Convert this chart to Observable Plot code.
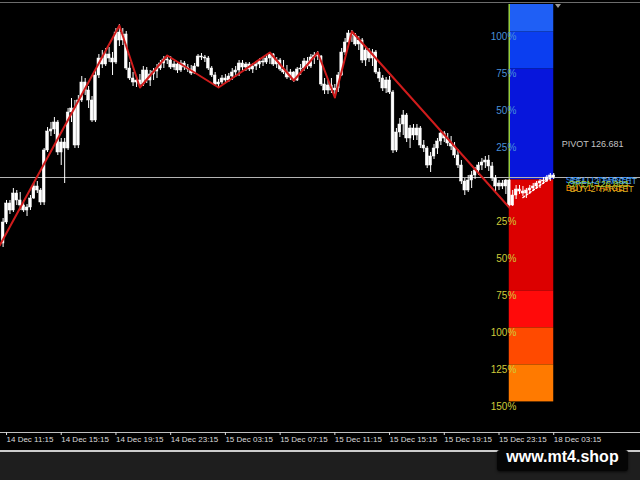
<!DOCTYPE html>
<html>
<head>
<meta charset="utf-8">
<script src="https://cdn.jsdelivr.net/npm/d3@7"></script>
<script src="https://cdn.jsdelivr.net/npm/@observablehq/plot@0.6"></script>
<style>
  html, body { margin: 0; padding: 0; background: #000; }
  #wrap { position: relative; width: 640px; height: 480px; background: #000; overflow: hidden; font-family: "Liberation Sans", Arial, sans-serif; }
  #chart { position: absolute; left: 0; top: 0; }
  .topline { position: absolute; left: 0; top: 2px; width: 640px; height: 1px; background: #6c6c6c; }
  .marker { position: absolute; left: 555px; top: 4px; width: 0; height: 0; border-left: 3px solid transparent; border-right: 3px solid transparent; border-top: 4px solid #9a9a9a; }
  .bottom { position: absolute; left: 0; top: 450px; width: 640px; height: 30px; background: #1e1e1e; border-top: 2px solid #cdcdcd; box-sizing: border-box; }
  .wm { position: absolute; left: 497px; top: -2px; width: 131px; height: 21px; background: #050505; border-radius: 3px; color: #fff; font: bold 16px "Liberation Sans", Arial, sans-serif; text-align: center; line-height: 14px; box-shadow: 0 1px 3px rgba(0,0,0,0.7); }
</style>
</head>
<body>
<div id="wrap">
  <div id="chart"></div>
  <div class="topline"></div>
  <div class="marker"></div>
  <div class="bottom"><div class="wm">www.mt4.shop</div></div>
</div>
<script>
// ---- data (M15 candles, 14 Dec 11:00 .. 18 Dec 03:15) ----
const firstOpen = 126.485;
const closes = [
  126.590,126.685,126.650,126.735,126.700,126.675,126.650,126.665,126.710,126.770,
  126.750,126.690,126.950,127.045,127.055,127.090,126.940,126.990,126.960,127.140,
  127.160,126.975,127.200,127.290,127.250,127.200,127.100,127.325,127.410,127.380,
  127.430,127.410,127.390,127.540,127.500,127.530,127.360,127.310,127.290,127.300,
  127.280,127.350,127.300,127.330,127.345,127.360,127.385,127.405,127.400,127.365,
  127.380,127.350,127.385,127.365,127.355,127.335,127.370,127.420,127.415,127.410,
  127.360,127.325,127.280,127.290,127.310,127.300,127.320,127.340,127.350,127.385,
  127.365,127.380,127.355,127.370,127.380,127.395,127.390,127.410,127.430,127.380,
  127.400,127.355,127.340,127.315,127.340,127.300,127.355,127.360,127.395,127.370,
  127.415,127.425,127.420,127.280,127.250,127.275,127.250,127.260,127.325,127.440,
  127.490,127.535,127.525,127.480,127.500,127.400,127.450,127.410,127.440,127.340,
  127.310,127.260,127.300,127.240,126.950,127.040,127.080,127.125,127.010,127.060,
  127.025,127.060,126.975,126.960,126.875,126.920,126.960,126.995,127.035,127.010,
  126.985,126.970,126.925,126.875,126.795,126.750,126.800,126.825,126.850,126.875,
  126.890,126.900,126.870,126.810,126.770,126.785,126.770,126.800,126.675,126.725,
  126.755,126.745,126.735,126.750,126.760,126.770,126.785,126.795,126.800,126.815,
  126.825,126.815
];
const highs = [
  126.610,126.700,126.700,126.760,126.750,126.740,126.700,126.680,126.725,126.790,
  126.795,126.760,126.960,127.065,127.090,127.115,127.100,127.010,127.010,127.160,
  127.210,127.200,127.225,127.320,127.310,127.270,127.220,127.350,127.430,127.450,
  127.460,127.465,127.440,127.560,127.580,127.560,127.545,127.390,127.340,127.320,
  127.330,127.370,127.365,127.350,127.360,127.380,127.400,127.420,127.425,127.420,
  127.395,127.390,127.400,127.395,127.380,127.375,127.385,127.430,127.435,127.425,
  127.420,127.370,127.340,127.305,127.325,127.330,127.335,127.360,127.370,127.400,
  127.400,127.390,127.390,127.385,127.395,127.410,127.415,127.425,127.440,127.435,
  127.415,127.410,127.400,127.375,127.355,127.345,127.365,127.380,127.410,127.415,
  127.430,127.440,127.445,127.425,127.310,127.300,127.310,127.280,127.340,127.460,
  127.510,127.550,127.550,127.535,127.520,127.510,127.470,127.460,127.455,127.450,
  127.360,127.325,127.315,127.320,127.250,127.060,127.110,127.150,127.135,127.075,
  127.080,127.080,127.070,127.000,126.970,126.940,126.980,127.010,127.050,127.045,
  127.035,127.020,126.990,126.955,126.900,126.810,126.825,126.845,126.865,126.890,
  126.910,126.920,126.925,126.890,126.825,126.800,126.800,126.805,126.805,126.750,
  126.775,126.775,126.770,126.760,126.775,126.785,126.795,126.805,126.815,126.825,
  126.835,126.835
];
const lows = [
  126.465,126.580,126.630,126.640,126.675,126.650,126.640,126.620,126.650,126.705,
  126.735,126.675,126.675,126.940,127.020,127.030,126.925,126.875,126.785,126.950,
  127.090,126.960,126.960,127.190,127.225,127.160,127.090,127.090,127.310,127.360,
  127.370,127.390,127.325,127.380,127.470,127.475,127.350,127.300,127.270,127.265,
  127.260,127.270,127.285,127.270,127.300,127.310,127.350,127.360,127.380,127.355,
  127.350,127.335,127.340,127.350,127.340,127.325,127.330,127.365,127.400,127.390,
  127.350,127.315,127.270,127.260,127.280,127.290,127.290,127.300,127.315,127.320,
  127.350,127.345,127.345,127.335,127.350,127.360,127.370,127.380,127.380,127.370,
  127.360,127.345,127.330,127.305,127.300,127.290,127.295,127.325,127.345,127.355,
  127.360,127.380,127.400,127.270,127.230,127.230,127.235,127.210,127.240,127.320,
  127.425,127.480,127.490,127.470,127.450,127.385,127.370,127.390,127.370,127.330,
  127.290,127.245,127.235,127.230,126.935,126.940,127.015,127.025,126.990,126.960,
  127.000,127.000,126.960,126.940,126.860,126.840,126.905,126.930,126.975,126.990,
  126.970,126.950,126.910,126.860,126.780,126.725,126.740,126.760,126.805,126.825,
  126.850,126.860,126.845,126.795,126.745,126.750,126.755,126.730,126.660,126.670,
  126.705,126.730,126.720,126.710,126.730,126.745,126.755,126.760,126.780,126.790,
  126.795,126.805
];

// zigzag vertices (candle index, price)
const zzIdx   = [-1, 34, 40, 48, 63, 78, 85, 92, 97, 102, 148];
const zzPrice = [126.475, 127.575, 127.265, 127.425, 127.265, 127.440, 127.300, 127.440, 127.215, 127.545, 126.665];

// dotted line on the current day
const dotIdx   = [152, 161];
const dotPrice = [126.715, 126.825];

// daily range box
const dayStartIdx = 148;
const lastIdx = 161;
const dayOpen = 126.803;
const adr = 0.74;              // 100% of the daily range
const blueBands = [[0, 75], [75, 100], [100, 125]];
const redBands  = [[0, 75], [75, 100], [100, 125], [125, 150]];
const blueLevels = [25, 50, 75, 100];
const redLevels  = [25, 50, 75, 100, 125, 150];
const pivotText = "PIVOT 126.681";
const openText = "OPEN 126.803";
const sellTexts = ["SELL 1 TARGET", "SELL 2 TARGET"];
const buyTexts  = ["BUY 1 TARGET", "BUY 2 TARGET"];

// time axis
const tickIdx = [1, 17, 33, 49, 65, 81, 97, 113, 129, 145, 161];
const tickLabels = ["14 Dec 11:15","14 Dec 15:15","14 Dec 19:15","14 Dec 23:15","15 Dec 03:15",
  "15 Dec 07:15","15 Dec 11:15","15 Dec 15:15","15 Dec 19:15","15 Dec 23:15","18 Dec 03:15"];

// scale domains
const xDomain = [-0.76, 186.37];
const yDomain = [125.54, 127.68];

// ---- styles ----
const blueColors = ["#0716dc", "#0b3ef0", "#1f5ff5"];
const redColors  = ["#dc0000", "#ff0a0a", "#ff4a00", "#ff7a00"];

// ---- build ----
const candles = closes.map((c, i) => {
  const o = i === 0 ? firstOpen : closes[i - 1];
  return {i, o, c, h: Math.max(highs[i], o, c), l: Math.min(lows[i], o, c)};
});
const zz = zzIdx.map((x, k) => ({x, y: zzPrice[k]}));
const dots = dotIdx.map((x, k) => ({x, y: dotPrice[k]}));
const bands = [
  ...blueBands.map((b, k) => ({y1: dayOpen + b[0] / 100 * adr, y2: dayOpen + b[1] / 100 * adr, fill: blueColors[k]})),
  ...redBands.map((b, k) => ({y1: dayOpen - b[0] / 100 * adr, y2: dayOpen - b[1] / 100 * adr, fill: redColors[k]}))
];
const lastClose = closes[closes.length - 1];
const font = "'Liberation Sans', Arial, sans-serif";

const chart = Plot.plot({
  width: 640, height: 450,
  marginTop: 4, marginBottom: 18, marginLeft: 0, marginRight: 0,
  x: {domain: xDomain, axis: null},
  y: {domain: yDomain, axis: null},
  color: {type: "identity"},
  style: {background: "#000", color: "#fff", fontFamily: font, overflow: "visible"},
  marks: [
    Plot.rect(bands, {x1: () => dayStartIdx, x2: () => lastIdx, y1: "y1", y2: "y2", fill: "fill", clip: true}),
    Plot.ruleX([dayStartIdx], {y1: dayOpen, y2: yDomain[1], stroke: "#9acd32", strokeWidth: 1.5}),
    Plot.ruleY([lastClose], {stroke: "#b4b4b4", strokeWidth: 1}),
    Plot.ruleX(candles, {x: "i", y1: "l", y2: "h", stroke: "#fff", strokeWidth: 1}),
    Plot.rect(candles, {x1: d => d.i - 0.4, x2: d => d.i + 0.4, y1: "o", y2: "c", fill: "#fff", stroke: "#fff", strokeWidth: 0.5}),
    Plot.line(zz, {x: "x", y: "y", stroke: "#d01c1c", strokeWidth: 2, clip: true}),
    Plot.line(dots, {x: "x", y: "y", stroke: "#fff", strokeWidth: 1.5, strokeDasharray: "2,2"}),
    Plot.text(blueLevels, {x: () => dayStartIdx, y: p => dayOpen + p / 100 * adr, text: p => p + "%", textAnchor: "end", lineAnchor: "top", dx: 7, dy: 1, fill: "#4a90d6", fontSize: 10}),
    Plot.text(redLevels, {x: () => dayStartIdx, y: p => dayOpen - p / 100 * adr, text: p => p + "%", textAnchor: "end", lineAnchor: "top", dx: 7, dy: 1, fill: "#cfcb3a", fontSize: 10}),
    Plot.text([pivotText], {x: () => lastIdx, y: () => dayOpen + 0.25 * adr, text: d => d, textAnchor: "start", dx: 8, dy: 1, fill: "#c4c4c4", fontSize: 9}),
    Plot.text(sellTexts, {x: () => lastIdx, y: () => dayOpen, text: d => d, textAnchor: "start", fill: "#2f8fff", fontSize: 9, filter: (d, k) => k === 0, dx: 12, dy: 0}),
    Plot.text(sellTexts, {x: () => lastIdx, y: () => dayOpen, text: d => d, textAnchor: "start", fill: "#5aa6e6", fontSize: 9, filter: (d, k) => k === 1, dx: 16, dy: 1}),
    Plot.text(buyTexts, {x: () => lastIdx, y: () => dayOpen, text: d => d, textAnchor: "start", fill: "#ff8c00", fontSize: 9, filter: (d, k) => k === 0, dx: 12, dy: 8}),
    Plot.text(buyTexts, {x: () => lastIdx, y: () => dayOpen, text: d => d, textAnchor: "start", fill: "#d8b020", fontSize: 9, filter: (d, k) => k === 1, dx: 16, dy: 9}),
    Plot.text([openText], {x: () => lastIdx, y: () => dayOpen, text: d => d, textAnchor: "start", fill: "#9acd32", fontSize: 9, dx: 14, dy: 4.5}),
    Plot.ruleY([yDomain[0]], {stroke: "#c0c0c0", strokeWidth: 1}),
    Plot.axisX(tickIdx, {anchor: "bottom", tickSize: 3, tickPadding: 1, tickFormat: d => tickLabels[tickIdx.indexOf(d)], textAnchor: "start", dx: 0, fontSize: 8, color: "#dcdcdc"})
  ]
});
document.getElementById("chart").appendChild(chart);
</script>
</body>
</html>
